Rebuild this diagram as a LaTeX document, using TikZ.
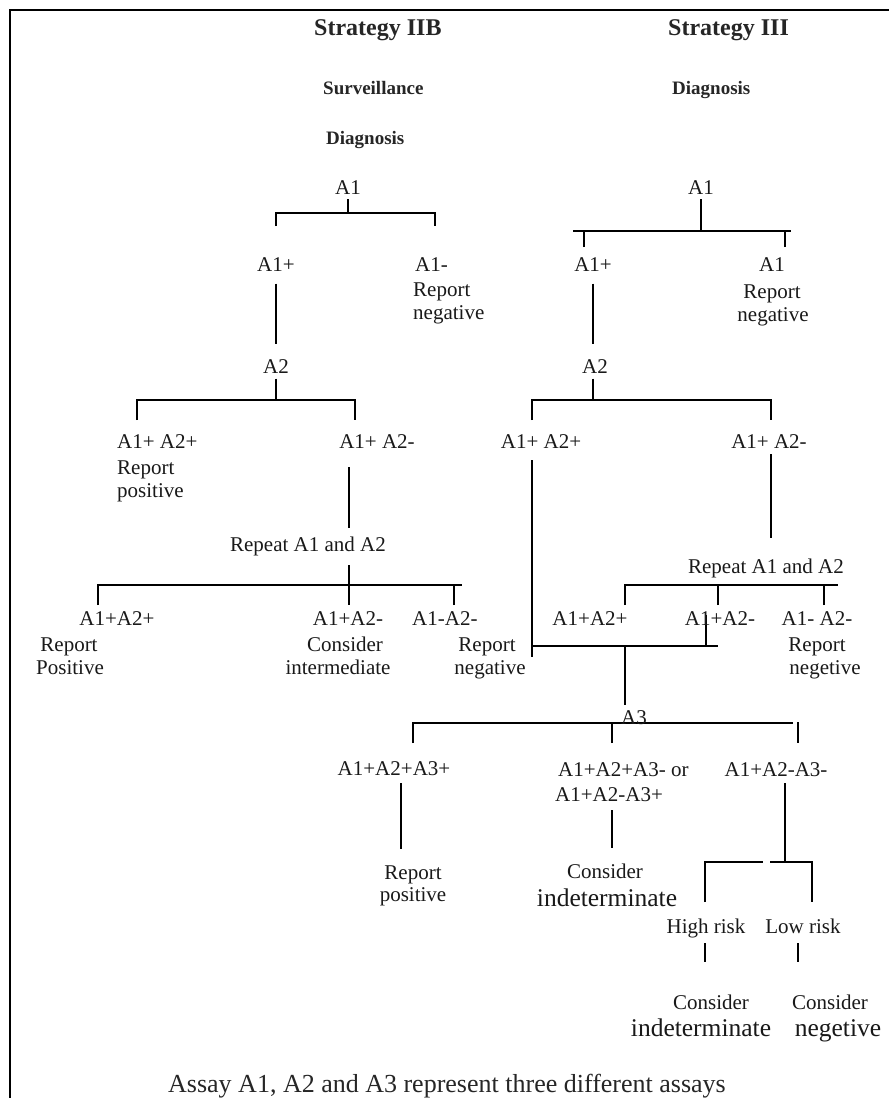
\documentclass[tikz,border=0pt]{standalone}
\usepackage{fontspec}
\setmainfont{Liberation Serif}
\begin{document}
\begin{tikzpicture}[x=1pt,y=-1pt,
  conn/.style={line width=1.6pt},
  vlink/.style={conn, shorten <=7pt, shorten >=10pt},
  t/.style={font=\fontsize{21}{24}\selectfont, inner xsep=0pt, inner ysep=5pt, anchor=mid, text=black!90, yshift=-4pt},
  tl/.style={t, anchor=mid west},
  big/.style={t, font=\fontsize{25.5}{28}\selectfont},
  hd/.style={font=\fontsize{24}{28}\selectfont\bfseries, anchor=mid west, inner sep=0pt, text=black!85, yshift=-5pt},
  sub/.style={font=\fontsize{19}{22}\selectfont\bfseries, anchor=mid west, inner sep=0pt, text=black!85, yshift=-4pt},
  captxt/.style={font=\fontsize{26}{30}\selectfont, anchor=mid, inner sep=0pt, text=black!85, yshift=-5pt}]
\useasboundingbox (0,0) rectangle (889,1098);
\fill[white] (0,0) rectangle (889,1098);
% frame
\coordinate (fbl) at (10,1098); \coordinate (ftl) at (10,10); \coordinate (ftr) at (889,10);
\draw[line width=2pt] (fbl) -- (ftl) -- (ftr);
% headers
\node[hd] (sIIB) at (314,28) {Strategy IIB};
\node[hd] (sIII) at (668,28) {Strategy III};
\node[sub] (surv) at (323,88) {Surveillance};
\node[sub] (diagL) at (326,138) {Diagnosis};
\node[sub] (diagR) at (672,88) {Diagnosis};
% ===== left tree =====
\node[t] (lA1) at (348,188) {A1};
\coordinate (lJ1) at (348,213);
\coordinate (lT1a) at (276,226); \coordinate (lT1b) at (435,226);
\draw[conn] (lA1) -- (lJ1);
\draw[conn] (lT1a) -- (lT1a |- lJ1) -- (lT1b |- lJ1) -- (lT1b);
\node[t] (lA1p) at (276,265) {A1+};
\node[tl] (lA1n) at (415,265) {A1-};
\node[tl] (lA1nr) at (413,290) {Report};
\node[tl] (lA1nn) at (413,313) {negative};
\node[t] (lA2) at (276,367) {A2};
\draw[vlink] (lA1p) -- (lA2);
\coordinate (lJ2) at (276,400);
\draw[conn] (lA2) -- (lJ2);
\coordinate (lT2a) at (137,420); \coordinate (lT2b) at (355,420);
\draw[conn] (lT2a) -- (lT2a |- lJ2) -- (lT2b |- lJ2) -- (lT2b);
\node[tl] (lPP) at (117,442) {A1+ A2+};
\node[tl] (lPPr) at (117,468) {Report};
\node[tl] (lPPp) at (117,491) {positive};
\node[t] (lPM) at (377,442) {A1+ A2-};
\coordinate (lV1a) at (349,467); \coordinate (lV1b) at (349,528);
\draw[conn] (lV1a) -- (lV1b);
\node[t] (lRep) at (308,545) {Repeat A1 and A2};
\coordinate (lV2a) at (349,565); \coordinate (lJ3) at (349,605);
\draw[conn] (lV2a) -- (lJ3);
\coordinate (lH3a) at (98,585); \coordinate (lH3b) at (462,585);
\coordinate (lT3a) at (98,605); \coordinate (lT3b) at (454,605);
\draw[conn] (lT3a) -- (lH3a) -- (lH3b);
\draw[conn] (lT3b) -- (lT3b |- lH3a);
\node[t] (l3a) at (117,619) {A1+A2+};
\node[t] (l3ar) at (69,645) {Report};
\node[t] (l3ap) at (70,668) {Positive};
\node[t] (l3b) at (348,619) {A1+A2-};
\node[t] (l3bc) at (345,645) {Consider};
\node[t] (l3bi) at (338,668) {intermediate};
\node[tl] (l3c) at (412,619) {A1-A2-};
\node[t] (l3cr) at (487,645) {Report};
\node[t] (l3cn) at (490,668) {negative};
% ===== right tree =====
\node[t] (rA1) at (701,188) {A1};
\coordinate (rJ1) at (701,231);
\draw[conn] (rA1) -- (rJ1);
\coordinate (rH1a) at (573,231); \coordinate (rH1b) at (791,231);
\coordinate (rT1a) at (584,247); \coordinate (rT1b) at (785,247);
\draw[conn] (rH1a) -- (rH1b);
\draw[conn] (rT1a) -- (rT1a |- rH1a);
\draw[conn] (rT1b) -- (rT1b |- rH1a);
\node[t] (rA1p) at (593,265) {A1+};
\node[t] (rA1n) at (772,265) {A1};
\node[t] (rA1nr) at (772,292) {Report};
\node[t] (rA1nn) at (773,315) {negative};
\node[t] (rA2) at (595,367) {A2};
\draw[vlink] (rA1p.south) -- (rA1p.south |- rA2.north);
\coordinate (rJ2) at (593,400);
\draw[conn] (rA2.south -| rJ2) -- (rJ2);
\coordinate (rT2a) at (532,420); \coordinate (rT2b) at (771,420);
\draw[conn] (rT2a) -- (rT2a |- rJ2) -- (rT2b |- rJ2) -- (rT2b);
\node[t] (rPP) at (541,442) {A1+ A2+};
\node[t] (rPM) at (769,442) {A1+ A2-};
\coordinate (rV3a) at (532,460); \coordinate (rV3b) at (532,657);
\draw[conn] (rV3a) -- (rV3b);
\coordinate (rH4a) at (532,646); \coordinate (rH4b) at (718,646);
\draw[conn] (rH4a) -- (rH4b);
\coordinate (rV4a) at (706,615);
\draw[conn] (rV4a) -- (rV4a |- rH4a);
\coordinate (rV5a) at (771,454); \coordinate (rV5b) at (771,538);
\draw[conn] (rV5a) -- (rV5b);
\node[t] (rRep) at (766,567) {Repeat A1 and A2};
\coordinate (rH5a) at (625,585); \coordinate (rH5b) at (838,585);
\coordinate (rT5a) at (625,605); \coordinate (rT5b) at (718,605); \coordinate (rT5c) at (824,605);
\draw[conn] (rT5a) -- (rH5a) -- (rH5b);
\draw[conn] (rT5b) -- (rT5b |- rH5a);
\draw[conn] (rT5c) -- (rT5c |- rH5a);
\node[t] (r3a) at (590,619) {A1+A2+};
\node[t] (r3b) at (720,619) {A1+A2-};
\node[t] (r3c) at (817,619) {A1- A2-};
\node[t] (r3cr) at (817,645) {Report};
\node[t] (r3cn) at (825,668) {negetive};
\coordinate (rJ6) at (625,646); \coordinate (rV6b) at (625,705);
\draw[conn] (rJ6) -- (rV6b);
% ===== A3 level =====
\coordinate (H7a) at (413,723); \coordinate (H7b) at (793,723);
\coordinate (T7a) at (413,743); \coordinate (T7b) at (612,743);
\coordinate (K7a) at (798,722); \coordinate (K7b) at (798,743);
\draw[conn] (T7a) -- (H7a) -- (H7b);
\draw[conn] (T7b) -- (T7b |- H7a);
\draw[conn] (K7a) -- (K7b);
\node[t] (A3) at (634,718) {A3};
\node[t] (p3) at (394,769) {A1+A2+A3+};
\node[tl] (m3a) at (558,770) {A1+A2+A3- or};
\node[tl] (m3b) at (555,795) {A1+A2-A3+};
\node[t] (n3) at (776,770) {A1+A2-A3-};
\coordinate (V8a) at (401,783); \coordinate (V8b) at (401,849);
\coordinate (V9a) at (612,810); \coordinate (V9b) at (612,848);
\coordinate (V10a) at (785,783); \coordinate (J10) at (785,862);
\draw[conn] (V8a) -- (V8b);
\draw[conn] (V9a) -- (V9b);
\draw[conn] (V10a) -- (J10);
\node[t] (pr) at (413,873) {Report};
\node[t] (pp) at (413,895) {positive};
\node[t] (mc) at (605,872) {Consider};
\node[big] (mi) at (607,900) {indeterminate};
\coordinate (H11a) at (763,862); \coordinate (H11b) at (770,862);
\coordinate (T11a) at (705,902); \coordinate (T11b) at (812,902);
\draw[conn] (T11a) -- (T11a |- H11a) -- (H11a);
\draw[conn] (H11b) -- (T11b |- H11b) -- (T11b);
\node[t] (hr) at (706,927) {High risk};
\node[t] (lr) at (803,927) {Low risk};
\coordinate (V12a) at (705,943); \coordinate (V12b) at (705,962);
\coordinate (V13a) at (798,943); \coordinate (V13b) at (798,962);
\draw[conn] (V12a) -- (V12b);
\draw[conn] (V13a) -- (V13b);
\node[t] (hc) at (711,1003) {Consider};
\node[t] (lc) at (830,1003) {Consider};
\node[big] (hi) at (701,1030) {indeterminate};
\node[big] (ln) at (838,1030) {negetive};
\node[captxt] (capt) at (447,1085) {Assay A1, A2 and A3 represent three different assays};
\end{tikzpicture}
\end{document}
